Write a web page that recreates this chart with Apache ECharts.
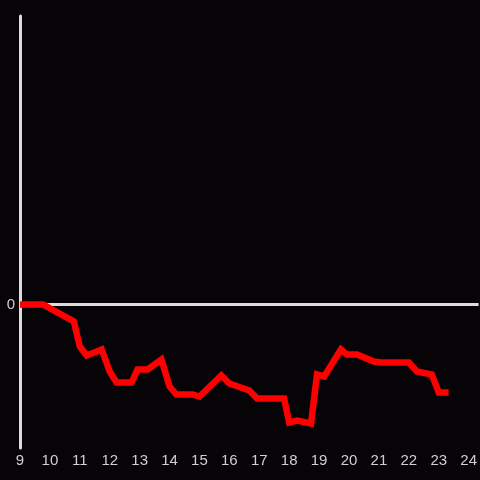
<!DOCTYPE html>
<html><head><meta charset="utf-8">
<script src="https://cdn.jsdelivr.net/npm/echarts@6/dist/echarts.min.js"></script>
<style>html,body{margin:0;padding:0;background:#060406}#c{width:480px;height:480px}</style>
</head><body><div id="c"></div>
<script>
const times = [9.0, 9.77, 10.8, 11.0, 11.23, 11.73, 12.0, 12.23, 12.73, 12.93, 13.27, 13.73, 14.0, 14.23, 14.77, 15.0, 15.73, 16.0, 16.67, 16.93, 17.83, 18.0, 18.27, 18.73, 18.93, 19.17, 19.73, 19.93, 20.27, 20.83, 21.07, 22.0, 22.27, 22.77, 23.0, 23.33];
const values = [0, 0, -0.17, -0.42, -0.51, -0.45, -0.67, -0.78, -0.78, -0.65, -0.65, -0.55, -0.82, -0.90, -0.90, -0.92, -0.71, -0.79, -0.86, -0.94, -0.94, -1.18, -1.16, -1.19, -0.70, -0.72, -0.45, -0.50, -0.50, -0.57, -0.58, -0.58, -0.67, -0.70, -0.88, -0.88];
const xTicks = [9,10,11,12,13,14,15,16,17,18,19,20,21,22,23,24];
const yTicks = [0];

const chart = echarts.init(document.getElementById('c'));
chart.setOption({
  backgroundColor: '#060406',
  animation: false,
  grid: {left: 20, right: 0, top: 16, bottom: 32},
  xAxis: {
    type: 'value', min: 9, max: 24.333,
    axisLine: {show: false, onZero: false},
    axisTick: {show: false},
    splitLine: {show: false},
    axisLabel: {customValues: xTicks, color: '#d0d0d0', fontSize: 15, margin: 5, fontFamily: 'Liberation Sans, Arial, sans-serif'}
  },
  yAxis: {
    type: 'value', min: -1.435, max: 2.885,
    axisLine: {show: true, lineStyle: {color: '#dddddd', width: 3}},
    axisTick: {show: false},
    splitLine: {show: false},
    axisLabel: {customValues: yTicks, color: '#d0d0d0', fontSize: 15, margin: 5, fontFamily: 'Liberation Sans, Arial, sans-serif'}
  },
  series: [{
    type: 'line',
    data: times.map((t, i) => [t, values[i]]),
    showSymbol: false,
    lineStyle: {color: '#ff0000', width: 6.5, join: 'miter'},
    markLine: {
      z: 1, silent: true, symbol: 'none',
      label: {show: false},
      lineStyle: {color: '#dddddd', width: 3, type: 'solid'},
      data: [{yAxis: 0}]
    }
  }]
});
</script></body></html>
